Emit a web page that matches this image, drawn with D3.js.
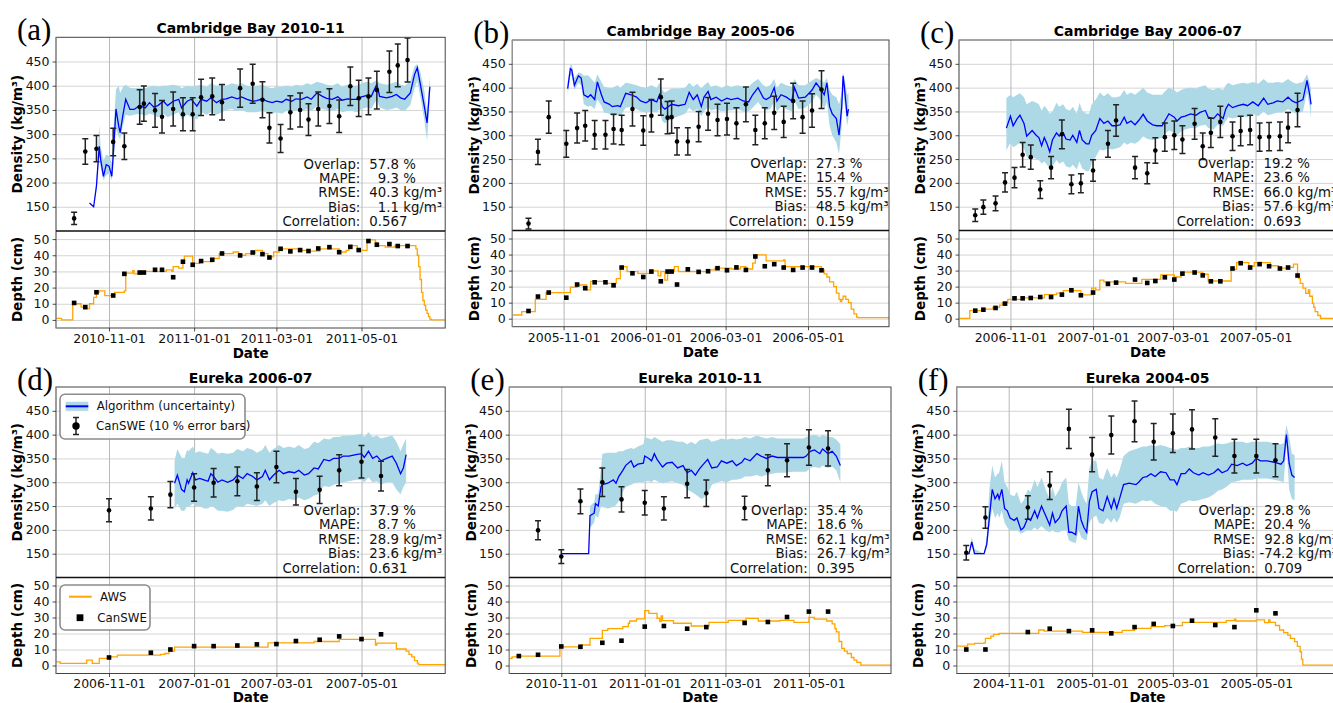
<!DOCTYPE html>
<html>
<head>
<meta charset="utf-8">
<title>Snow density and depth</title>
<script src="https://cdn.jsdelivr.net/npm/d3@7"></script>
<style>
  body { margin: 0; background: #fff; }
  svg { display: block; font-family: "DejaVu Sans", sans-serif; }
</style>
</head>
<body>
<svg id="chart" width="1333" height="703"></svg>
<script>
// dates are "MM-DD" inside a season that starts in the given year (Sep..Dec) and ends the next year

// ---- (a) Cambridge Bay 2010-11 ----
var aAlgDates = ["10-18","10-21","10-23","10-25","10-26","10-28","10-30","11-01",
  "11-03","11-04","11-06","11-08","11-09","11-11","11-13","11-16","11-19","11-23","11-27","11-30",
  "12-03","12-06","12-10","12-13","12-17","12-21","12-23","12-27","12-30",
  "01-03","01-06","01-10","01-13","01-17","01-21","01-24","01-28",
  "02-01","02-04","02-08","02-12","02-15","02-19","02-22","02-26",
  "03-01","03-05","03-08","03-12","03-15","03-19","03-23","03-26","03-30",
  "04-03","04-06","04-10","04-14","04-17","04-21","04-24","04-28",
  "05-01","05-05","05-08","05-12","05-14","05-19","05-23","05-26","05-29",
  "06-01","06-05","06-08","06-10","06-12","06-15","06-17","06-19"]
var aAlgMean = [158,150,193,275,248,213,237,234,
  213,255,352,316,303,340,372,351,351,359,354,365,
  356,359,368,359,368,372,354,368,372,
  358,372,368,375,365,372,373,377,
  373,377,372,368,369,373,368,365,
  368,366,372,368,373,372,377,372,385,
  378,374,372,377,370,373,372,372,
  377,380,378,403,378,375,378,382,375,
  372,385,423,437,406,358,323,398]
var aAlgLow = [158,150,185,255,232,205,215,218,
  205,230,310,295,290,318,340,338,340,342,338,342,
  340,335,342,335,340,345,330,340,335,
  330,345,340,345,340,345,350,352,
  348,350,345,345,345,348,345,342,
  345,342,348,345,350,348,352,348,358,
  352,350,348,352,345,348,348,345,
  352,355,352,372,355,350,352,355,350,
  348,360,395,410,380,330,285,375]
var aAlgHigh = [158,150,205,318,275,245,258,255,
  240,300,392,400,385,398,402,396,395,396,395,398,
  400,398,400,400,402,400,395,400,398,
  400,402,398,405,400,402,400,405,
  402,405,400,398,400,402,398,395,
  398,398,400,398,402,400,405,402,408,
  405,402,400,405,398,402,400,400,
  405,408,405,412,405,402,405,408,402,
  400,410,440,445,430,390,345,420]
var aSweDates = ["10-07","10-15","10-23","11-04","11-12","11-23","11-26","12-04","12-09","12-17","12-24","12-31",
  "01-06","01-14","01-21","02-03","02-12","02-19","02-24","03-04","03-11","03-18","03-24","03-31",
  "04-08","04-15","04-23","04-29","05-06","05-12","05-21","05-27","06-03"]
var aSweDensity = [126,264,270,284,275,356,363,349,336,352,341,341,376,378,366,395,404,371,313,291,345,350,330,352,358,337,399,374,378,391,429,442,453]
var aSweDepth = [10.5,7.9,17.1,15.1,28.5,29.3,29.3,31,31,26.4,36,34.1,36.4,37.2,41.1,39.9,41.7,40.7,38.6,44,42.4,43.2,42.6,44.2,45,41.9,45.2,43.2,48.8,46.5,46.9,45.7,45.7]
var aAwsDates = ["09-24","09-28","10-06","10-12","10-14","10-18","10-21","10-23","10-25","10-29","11-05","11-12","11-13","11-18","11-19","11-23",
  "12-05","12-12","12-16","12-17","12-21","12-24","12-25","12-31","01-05","01-14","01-19","01-29","02-02","02-07","02-14","02-19","02-23","02-27",
  "03-03","03-18","03-25","04-01","04-15","04-20","04-22","04-28","04-30","05-05","05-11","05-12","05-18","05-25",
  "06-09","06-10","06-11","06-12","06-13","06-14","06-15","06-16","06-17","06-18","06-19","06-20","06-30"]
var aAwsDepth = [1,0,10,8,7,10,14,17,18,15,17,18,29,30.5,28.5,30,
  30,31,30,33,32,35,39.5,35,36,38,41,42,40,41,43,41,39,42,
  44,43,42.5,44,42,43,46,44,43,49.5,48,46,45,46,
  44,40,33,25,17,12,9,6,4,2,0.5,0,0]
var aStats = [57.8, 9.3, 40.3, 1.1, 0.567]

// ---- (b) Cambridge Bay 2005-06 ----
var bAlgDates = ["11-04","11-06","11-07","11-09","11-12","11-14","11-16","11-19","11-21","11-24","11-26","11-29",
  "12-01","12-05","12-07","12-11","12-13","12-17","12-21","12-25","12-28",
  "01-01","01-05","01-09","01-11","01-13","01-15","01-20","01-25","01-30",
  "02-02","02-05","02-08","02-11","02-13","02-16","02-18","02-22","02-26",
  "03-02","03-05","03-10","03-14","03-18","03-21","03-25","03-29","03-31",
  "04-03","04-06","04-08","04-11","04-15","04-19","04-21","04-24","04-29",
  "05-04","05-07","05-11","05-13","05-15","05-17","05-19","05-22","05-24","05-26","05-27","05-28","05-30","05-31"]
var bAlgMean = [398,440,438,405,425,420,385,380,385,375,412,385,370,365,360,362,360,388,385,380,372,
  368,375,370,385,360,355,365,362,365,390,375,385,360,380,392,375,380,372,
  378,375,378,372,370,385,400,378,375,380,400,372,385,380,372,400,378,380,
  395,410,395,385,410,360,345,335,300,360,425,400,340,355]
var bAlgLow = [385,425,425,395,410,405,365,360,362,355,375,362,348,345,340,342,340,358,360,355,350,
  348,350,348,355,330,325,335,340,345,358,350,355,340,350,360,352,355,350,
  352,352,355,350,350,358,370,355,352,355,370,350,360,355,350,372,355,358,
  370,385,372,355,370,320,300,285,260,320,395,370,320,335]
var bAlgHigh = [410,448,448,420,432,430,425,426,420,410,428,412,402,400,400,405,400,410,408,405,402,
  400,405,400,410,395,390,398,398,400,410,402,408,398,405,412,402,405,400,
  405,402,405,402,402,410,418,405,402,405,418,400,410,405,402,418,405,405,
  415,420,415,410,420,395,385,380,365,390,432,420,385,390]
var bSweDates = ["10-06","10-13","10-21","11-03","11-11","11-17","11-24","12-02","12-08","12-14","12-22","12-30",
  "01-05","01-12","01-17","01-20","01-24","02-01","02-09","02-16","02-23","03-02","03-09","03-16","03-23","03-30",
  "04-06","04-13","04-20","04-27","05-04","05-11"]
var bSweDensity = [114.5,265,338,282,315,320,301,301,313,311,355,310,341,380,337,338,287,287,318,345,332,334,325,365,311,325,347,328,372,338,352,396]
var bSweDepth = [4.8,13.8,16.3,13.1,21.3,19,22.7,22.7,20.8,31.9,28.3,26,29.4,23.3,29.4,29.4,21.3,30.8,29.2,29.6,31.5,30.2,32,30.4,38.8,32.7,34,31.9,30.4,31.9,31.9,30.2]
var bAwsDates = ["09-24","10-01","10-11","10-19","11-06","11-11","11-18","11-21","12-02","12-10",
  "12-13","12-18","12-26","01-06","01-10","01-12","01-15","01-17","01-22","01-25",
  "02-16","02-21","03-05","03-12","03-16","03-21","03-23","03-31","04-13","04-14",
  "04-29","05-11","05-13","05-15","05-17","05-20","05-22","05-24","05-25","05-26",
  "05-27","05-29","05-31","06-02","06-04","06-06","06-07","06-30"]
var bAwsDepth = [2.3,4.4,12,16.2,19.6,21,18,23.3,22,25,
  32.5,29.4,28.3,29.8,26.7,29.4,24,29.4,32.5,29.4,
  30.4,31.5,31,32.5,31,34.6,39.8,36,36.7,32.5,
  32.5,30.4,28,26,23,20,16,12,10.6,12,
  14,12,10,6,3,1,0.6,0.6]
var bStats = [27.3, 15.4, 55.7, 48.5, 0.159]

// ---- (c) Cambridge Bay 2006-07 ----
var cAlgDates = ["10-29","11-01","11-03","11-06","11-08","11-11","11-13","11-17","11-20","11-22","11-24","11-26","11-28","11-30",
  "12-02","12-05","12-07","12-10","12-12","12-15","12-17","12-20","12-22","12-24","12-27","12-29","12-31",
  "01-03","01-06","01-09","01-12","01-15","01-18","01-21","01-24","01-26","01-29",
  "02-01","02-04","02-07","02-10","02-14","02-17","02-21","02-23","02-26",
  "03-02","03-04","03-07","03-10","03-14","03-18","03-21","03-25","03-27","03-31",
  "04-03","04-07","04-09","04-11","04-14","04-18","04-22","04-25","04-29",
  "05-03","05-07","05-10","05-14","05-17","05-21","05-25","05-28","05-31",
  "06-05","06-08","06-10","06-11"]
var cAlgMean = [315,340,320,335,342,325,298,310,300,295,278,295,282,265,
  290,305,298,305,292,290,300,285,310,290,282,282,300,
  310,335,325,330,320,320,322,338,325,330,
  322,332,344,330,322,320,320,330,345,
  338,330,338,340,345,342,348,352,338,335,
  345,335,355,365,358,362,365,362,370,
  362,378,365,368,372,370,380,372,368,
  375,415,385,365]
var cAlgLow = [268,285,275,280,285,272,255,255,250,248,240,245,238,230,
  235,248,240,245,235,232,238,228,245,230,225,225,240,
  255,270,268,272,270,272,275,285,280,285,
  282,288,298,292,290,292,295,302,310,
  305,300,308,312,315,315,320,322,315,312,
  322,320,330,338,335,338,340,338,345,
  340,350,342,345,348,348,355,350,345,
  350,390,360,336]
var cAlgHigh = [378,385,380,385,388,380,365,372,368,365,352,362,355,345,
  350,368,360,365,355,352,360,345,368,352,345,345,365,
  375,390,382,388,380,380,382,395,385,390,
  385,392,400,390,385,385,385,392,400,
  395,390,395,398,400,398,402,405,398,395,
  400,395,405,410,405,408,410,408,412,
  408,418,410,410,412,410,418,412,408,
  412,428,410,395]
var cSweDates = ["10-06","10-12","10-21","10-28","11-04","11-10","11-16","11-23","12-01","12-09","12-16","12-23",
  "01-01","01-12","01-18","02-01","02-10","02-16","02-23","03-02","03-08","03-17","03-23","03-29",
  "04-05","04-14","04-20","04-27","05-04","05-11","05-19","05-25","06-01"]
var cSweDensity = [132,149,157,201,211,259,254,186,232,302,197,199,226,282,331,232,220,268,296,300,291,324,277,305,328,298,309,311,296,297,298,316,353]
var cSweDepth = [5,5.6,6.7,9.4,12.7,12.7,12.9,13.5,13.5,15,17.7,14.6,16.3,21.7,22.5,24.4,22.3,23.5,25.8,24.4,28.1,28.8,27,23.3,23.3,31.3,34.6,31.9,34,32.7,31.3,31.9,26.9]
var cAwsDates = ["09-24","10-02","10-12","10-19","10-24","10-26","10-30","11-09","11-26","12-05",
  "12-10","12-23","12-31","01-03","01-06","01-09","01-25","02-06","02-20","03-02",
  "03-07","03-23","03-27","04-13","04-17","04-26","04-30","05-12","05-18","05-24",
  "05-29","06-01","06-02","06-03","06-05","06-07","06-09","06-10","06-12","06-13",
  "06-14","06-16","06-18","06-30"]
var cAwsDepth = [0.2,5,6,7,8.5,10,12,13,15,16,
  17.5,14.8,19,18,24,23,22,24.5,27.3,26,
  29,27.7,23.5,30.8,35,32.7,35,33,31.5,32,
  34,28,25,22,19,15.8,18,14,9.6,7,
  4.4,2,0.2,0.2]
var cStats = [19.2, 23.6, 66.0, 57.6, 0.693]

// ---- (d) Eureka 2006-07 ----
var dAlgDates = ["12-18","12-20","12-23","12-25","12-27","12-28","12-31",
  "01-02","01-05","01-08","01-11","01-13","01-15","01-18","01-21","01-25","01-29",
  "02-01","02-05","02-08","02-12","02-15","02-19","02-21","02-24","02-26","02-28",
  "03-03","03-06","03-10","03-14","03-17","03-21","03-24","03-28","03-31",
  "04-04","04-08","04-11","04-15","04-18","04-22","04-27",
  "05-01","05-03","05-06","05-09","05-12","05-15","05-19","05-23","05-26","05-29","05-31","06-02"]
var dAlgMean = [298,315,285,280,305,298,320,
  305,308,305,302,318,312,300,305,300,305,
  315,308,318,312,305,312,325,305,312,318,
  325,318,322,320,325,315,318,330,328,
  348,345,350,350,355,355,358,
  360,352,365,350,355,345,350,355,340,318,330,358]
var dAlgLow = [245,255,240,240,250,248,255,
  250,250,245,245,250,248,240,240,238,242,
  250,248,255,252,250,255,262,250,255,258,
  262,260,265,262,268,262,265,272,275,
  292,290,295,298,300,302,305,
  305,300,310,300,302,295,300,300,285,275,290,300]
var dAlgHigh = [345,370,352,350,368,365,375,
  362,365,362,360,372,368,360,362,360,362,
  370,365,372,368,362,368,378,362,368,372,
  378,372,375,372,378,370,372,385,382,
  392,390,395,395,398,398,400,
  402,395,405,395,398,392,395,398,385,365,380,392]
var dSweDates = ["11-01","12-01","12-15","01-01","01-15","02-01","02-15","03-01","03-15","04-01","04-15","05-01","05-15"]
var dSweDensity = [241,245,274,289,299,302,291,332,280,284,325,343,313]
var dSweDepth = [5,8,10,12.1,12.1,12.5,13.2,13.4,15.3,16.1,18.2,16.5,19.5]
var dAwsDates = ["09-24","09-27","10-16","10-20","10-25","11-01","11-07","12-08","12-11","12-14",
  "12-18","02-23","03-28","04-15","05-11","05-12","05-26","06-02","06-04","06-06",
  "06-08","06-10","06-11","06-30"]
var dAwsDepth = [2.3,1.3,3.3,1.3,4.4,5.4,6.5,7,7.5,9,
  11.5,14.2,15,16.3,12.8,14,10.3,9,7,5.4,
  3,1.5,0.6,0.6]
var dStats = [37.9, 8.7, 28.9, 23.6, 0.631]

// ---- (e) Eureka 2010-11 ----
var eAlgDates = ["11-01","11-21","11-22","11-25","11-26","11-28","11-30",
  "12-01","12-05","12-09","12-11","12-13","12-16","12-18","12-22","12-24","12-27","12-31",
  "01-01","01-04","01-06","01-08","01-10","01-14","01-17","01-21","01-25","01-29",
  "02-01","02-04","02-07","02-10","02-12","02-16","02-19","02-23","02-26",
  "03-02","03-06","03-09","03-13","03-15","03-19","03-24","03-27","03-31",
  "04-04","04-08","04-13","04-20","04-27","04-29",
  "05-02","05-05","05-09","05-11","05-15","05-18","05-21","05-24"]
var eAlgMean = [150,150,230,235,255,250,290,
  295,298,305,298,312,325,335,345,332,338,340,
  355,350,345,360,348,332,340,342,330,335,
  320,325,315,328,335,348,330,332,345,
  340,345,335,342,350,345,360,355,350,
  355,352,352,352,352,355,
  365,368,360,370,360,365,355,335]
var eAlgLow = [150,150,205,215,230,225,250,
  248,245,248,252,260,280,290,295,298,300,300,
  302,302,300,305,302,298,300,302,298,295,
  285,280,275,268,265,275,295,300,302,
  300,305,305,308,312,312,315,312,315,
  318,320,320,322,322,322,
  330,332,330,335,330,333,325,300]
var eAlgHigh = [150,150,250,258,275,275,330,
  360,362,362,362,365,365,368,372,370,375,380,
  395,392,390,395,392,385,388,388,385,385,
  380,385,380,388,390,392,385,388,392,
  390,392,390,392,395,392,398,395,392,
  395,392,392,392,392,395,
  398,400,395,400,395,395,390,380]
var eSweDates = ["10-15","11-01","11-15","12-01","12-15","01-01","01-15","02-01","02-15","03-15","04-01","04-15","05-01","05-15"]
var eSweDensity = [199,144,260,300,264,257,245,297,277,246,325,346,373,371]
var eDepthDates = ["10-01","10-15","11-01","11-15","12-01","12-15","01-01","01-15","02-01","02-15","03-15","04-01","04-15","05-01","05-15"]
var eSweDepth = [5.9,6.7,11.9,11.7,14.2,15.5,24.3,24.7,23,24,26.6,27.2,30.3,33.7,33.7]
var eAwsDates = ["09-24","09-26","09-29","10-31","11-15","11-22","12-01","12-05","12-16","12-20",
  "12-21","12-26","01-01","01-04","01-10","01-12","01-13","01-14","01-22","02-04",
  "02-17","03-03","03-16","03-25","04-10","04-20","05-01","05-05","05-14","05-18",
  "05-20","05-21","05-23","05-25","05-27","05-29","06-01","06-03","06-05","06-08","06-30"]
var eAwsDepth = [4.4,5.4,5.9,11.7,12.8,17,22,23,24.3,26.4,
  27.8,29.1,34.3,32.6,29.5,27.4,31,28,26.4,24.7,
  27,28.2,29.5,27.8,28.2,27,30.1,29,27.8,26,
  23,21,15,10.7,9,7.5,5,3.3,2,0.2,0.2]
var eStats = [35.4, 18.6, 62.1, 26.7, 0.395]

// ---- (f) Eureka 2004-05 ----
var fAlgDates = ["09-30","10-03","10-05","10-07","10-14","10-16","10-18","10-20","10-22","10-24","10-25","10-27","10-29","10-31",
  "11-02","11-05","11-07","11-10","11-12","11-15","11-17","11-20","11-22","11-25","11-28",
  "12-01","12-03","12-05","12-08","12-10","12-13","12-15","12-17","12-20","12-22","12-24","12-26","12-28","12-30",
  "01-01","01-04","01-06","01-09","01-12","01-15","01-17","01-19","01-21","01-24","01-28",
  "02-02","02-04","02-07","02-10","02-13","02-16","02-20","02-24","02-27",
  "03-02","03-04","03-07","03-10","03-13","03-16","03-20","03-23","03-27","03-31",
  "04-03","04-06","04-10","04-13","04-17","04-21","04-24","04-28",
  "05-01","05-04","05-09","05-14","05-19","05-21","05-23","05-25","05-27","05-29"]
var fAlgMean = [150,150,175,150,150,170,230,285,265,275,265,285,245,240,
  225,220,225,200,205,225,220,240,225,250,230,
  210,235,215,225,240,250,195,195,190,250,220,205,195,260,
  280,285,245,240,270,245,265,245,265,295,298,
  295,300,310,312,318,312,322,320,305,
  305,295,318,318,328,320,315,320,315,320,
  328,320,325,338,335,340,335,340,
  350,345,345,342,338,345,400,340,315,310]
var fAlgLow = [150,150,165,150,150,162,210,245,225,235,225,240,215,205,
  200,198,200,192,195,200,198,205,200,208,200,
  195,200,195,195,198,200,178,175,172,200,185,180,178,215,
  225,230,215,212,225,215,225,215,225,255,258,
  255,258,262,260,262,255,250,248,240,
  240,238,255,258,262,260,262,265,268,275,
  282,285,292,300,302,305,305,305,
  308,308,308,305,302,300,380,285,265,262]
var fAlgHigh = [150,150,185,160,150,190,290,335,310,318,320,345,300,290,
  275,270,280,255,262,285,280,305,290,310,285,
  265,290,270,285,300,310,255,250,250,300,280,265,255,330,
  345,345,310,305,330,310,320,310,325,355,365,
  370,372,375,375,378,375,378,375,372,
  370,368,372,372,375,372,372,375,375,378,
  382,380,382,385,385,385,382,385,
  385,385,385,382,380,382,420,395,360,357]
var fSweDates = ["10-01","10-15","11-15","12-01","12-15","01-01","01-15","02-01","02-15","03-01","03-15","04-01","04-15","05-01","05-15"]
var fSweDensity = [152,226,247,293,412,358,399,428,385,403,411,394,355,355,346]
var fSweDepth = [10,10,20.9,23,21.5,22,20.1,24,26,24.7,28,25.3,24,34.5,32.6]
var fAwsDates = ["09-24","10-02","10-07","10-14","10-15","10-19","10-21","10-25","11-23","11-27",
  "12-25","01-23","02-01","02-13","02-23","03-08","04-09","04-15","04-16","05-01",
  "05-07","05-10","05-11","05-15","05-18","05-21","05-24","05-26","05-29","05-31",
  "06-02","06-03","06-04","06-30"]
var fAwsDepth = [12.1,13.4,13.8,14.2,17,18.4,19.5,20.1,22.2,21.5,
  20.7,22,23.2,24.3,24.9,27,28,29,27.8,28.5,
  26.8,28.5,27,25,22.2,20.5,19,17,14.9,12,
  8.6,4,0.2,0.2]
var fStats = [29.8, 20.4, 92.8, -74.2, 0.709]

var panelLetters = ["(a)", "(b)", "(c)", "(d)", "(e)", "(f)"]
var panelTitles = ["Cambridge Bay 2010-11", "Cambridge Bay 2005-06", "Cambridge Bay 2006-07",
  "Eureka 2006-07", "Eureka 2010-11", "Eureka 2004-05"]
var seasonYears = [2010, 2005, 2006, 2006, 2010, 2004]
var densityTicks = [150, 200, 250, 300, 350, 400, 450]
var depthTicks = [0, 10, 20, 30, 40, 50]
var statNames = ["Overlap:", "MAPE:", "RMSE:", "Bias:", "Correlation:"]
var statUnits = ["%", "%", "kg/m\u00b3", "kg/m\u00b3", ""]

var panels = [
  {alg: [aAlgDates, aAlgMean, aAlgLow, aAlgHigh], swe: [aSweDates, aSweDensity], dep: [aSweDates, aSweDepth], aws: [aAwsDates, aAwsDepth], stats: aStats},
  {alg: [bAlgDates, bAlgMean, bAlgLow, bAlgHigh], swe: [bSweDates, bSweDensity], dep: [bSweDates, bSweDepth], aws: [bAwsDates, bAwsDepth], stats: bStats},
  {alg: [cAlgDates, cAlgMean, cAlgLow, cAlgHigh], swe: [cSweDates, cSweDensity], dep: [cSweDates, cSweDepth], aws: [cAwsDates, cAwsDepth], stats: cStats},
  {alg: [dAlgDates, dAlgMean, dAlgLow, dAlgHigh], swe: [dSweDates, dSweDensity], dep: [dSweDates, dSweDepth], aws: [dAwsDates, dAwsDepth], stats: dStats},
  {alg: [eAlgDates, eAlgMean, eAlgLow, eAlgHigh], swe: [eSweDates, eSweDensity], dep: [eDepthDates, eSweDepth], aws: [eAwsDates, eAwsDepth], stats: eStats},
  {alg: [fAlgDates, fAlgMean, fAlgLow, fAlgHigh], swe: [fSweDates, fSweDensity], dep: [fSweDates, fSweDepth], aws: [fAwsDates, fAwsDepth], stats: fStats}
]

// axes boxes in pixels
var boxes = [
  {left: 56, right: 445.2, top: 37.3, mid: 231, bottom: 328, dateY: 358},
  {left: 512.3, right: 889, top: 40, mid: 230.5, bottom: 326.7, dateY: 357},
  {left: 959, right: 1336.8, top: 40, mid: 230.5, bottom: 326.7, dateY: 357},
  {left: 56, right: 445.2, top: 387, mid: 577.5, bottom: 673.5, dateY: 702},
  {left: 509.3, right: 891, top: 387, mid: 577.5, bottom: 673.5, dateY: 702},
  {left: 956.7, right: 1338.4, top: 387, mid: 577.5, bottom: 673.5, dateY: 702}
]

var svg = d3.select("#chart")
var parseDay = d3.timeParse("%Y-%m-%d")
var fmtTick = d3.timeFormat("%Y-%m-%d")

function toDate(year, s) {
  var m = +s.slice(0, 2)
  return parseDay((m >= 8 ? year : year + 1) + "-" + s)
}

function styleAxis(sel, size) {
  sel.select(".domain").remove()
  sel.selectAll(".tick line").attr("stroke", "#222").attr("stroke-width", 0.8)
  sel.selectAll(".tick text").attr("fill", "#111").style("font-size", size + "px").style("font-family", "DejaVu Sans")
}

function drawPanel(p, b, i) {
  var year = seasonYears[i]
  var g = svg.append("g")
  var w = b.right - b.left

  var x = d3.scaleTime().domain([new Date(year, 8, 24), new Date(year + 1, 5, 30)]).range([b.left, b.right])
  var yDen = d3.scaleLinear().domain([100, 500]).range([b.mid, b.top])
  var yDep = d3.scaleLinear().domain([-5, 55]).range([b.bottom, b.mid])
  var xTicks = [new Date(year, 10, 1), new Date(year + 1, 0, 1), new Date(year + 1, 2, 1), new Date(year + 1, 4, 1)]

  var defs = g.append("defs")
  defs.append("clipPath").attr("id", "cden" + i).append("rect")
    .attr("x", b.left).attr("y", b.top).attr("width", w).attr("height", b.mid - b.top)
  defs.append("clipPath").attr("id", "cdep" + i).append("rect")
    .attr("x", b.left).attr("y", b.mid).attr("width", w).attr("height", b.bottom - b.mid)

  // grids
  g.append("g").attr("transform", "translate(" + b.left + ",0)")
    .call(d3.axisLeft(yDen).tickValues(densityTicks).tickSize(-w).tickFormat(""))
    .call(function (s) { s.select(".domain").remove(); s.selectAll("line").attr("stroke", "#d4d4d4").attr("stroke-width", 1) })
  g.append("g").attr("transform", "translate(" + b.left + ",0)")
    .call(d3.axisLeft(yDep).tickValues(depthTicks).tickSize(-w).tickFormat(""))
    .call(function (s) { s.select(".domain").remove(); s.selectAll("line").attr("stroke", "#d4d4d4").attr("stroke-width", 1) })
  g.append("g").attr("transform", "translate(0," + b.bottom + ")")
    .call(d3.axisBottom(x).tickValues(xTicks).tickSize(-(b.bottom - b.top)).tickFormat(""))
    .call(function (s) { s.select(".domain").remove(); s.selectAll("line").attr("stroke", "#b8b8b8").attr("stroke-width", 1) })

  // algorithm band and line
  var alg = p.alg[0].map(function (s, k) {
    return {date: toDate(year, s), mean: p.alg[1][k], low: p.alg[2][k], high: p.alg[3][k]}
  })
  var den = g.append("g").attr("clip-path", "url(#cden" + i + ")")
  den.append("path").datum(alg)
    .attr("fill", "#add8e6")
    .attr("d", d3.area().x(function (d) { return x(d.date) }).y0(function (d) { return yDen(d.low) }).y1(function (d) { return yDen(d.high) }))
  den.append("path").datum(alg)
    .attr("fill", "none").attr("stroke", "#0000ff").attr("stroke-width", 1.3)
    .attr("d", d3.line().x(function (d) { return x(d.date) }).y(function (d) { return yDen(d.mean) }))

  // CanSWE density with 10 % error bars
  var swe = p.swe[0].map(function (s, k) { return {date: toDate(year, s), v: p.swe[1][k]} })
  var eb = den.selectAll(".eb").data(swe).join("g").attr("class", "eb")
  eb.append("line")
    .attr("x1", function (d) { return x(d.date) }).attr("x2", function (d) { return x(d.date) })
    .attr("y1", function (d) { return yDen(d.v * 0.9) }).attr("y2", function (d) { return yDen(d.v * 1.1) })
  eb.append("line")
    .attr("x1", function (d) { return x(d.date) - 3 }).attr("x2", function (d) { return x(d.date) + 3 })
    .attr("y1", function (d) { return yDen(d.v * 0.9) }).attr("y2", function (d) { return yDen(d.v * 0.9) })
  eb.append("line")
    .attr("x1", function (d) { return x(d.date) - 3 }).attr("x2", function (d) { return x(d.date) + 3 })
    .attr("y1", function (d) { return yDen(d.v * 1.1) }).attr("y2", function (d) { return yDen(d.v * 1.1) })
  eb.selectAll("line").attr("stroke", "#222").attr("stroke-width", 1.5)
  eb.append("circle").attr("cx", function (d) { return x(d.date) }).attr("cy", function (d) { return yDen(d.v) })
    .attr("r", 2.3).attr("fill", "#000")

  // depth: AWS line and CanSWE squares
  var aws = p.aws[0].map(function (s, k) { return {date: toDate(year, s), v: p.aws[1][k]} })
  var dep = g.append("g").attr("clip-path", "url(#cdep" + i + ")")
  dep.append("path").datum(aws)
    .attr("fill", "none").attr("stroke", "#ffa500").attr("stroke-width", 1.3)
    .attr("d", d3.line().curve(d3.curveStepAfter).x(function (d) { return x(d.date) }).y(function (d) { return yDep(d.v) }))
  var sq = p.dep[0].map(function (s, k) { return {date: toDate(year, s), v: p.dep[1][k]} })
  dep.selectAll(".sq").data(sq).join("rect").attr("class", "sq")
    .attr("x", function (d) { return x(d.date) - 2.3 }).attr("y", function (d) { return yDep(d.v) - 2.3 })
    .attr("width", 4.6).attr("height", 4.6).attr("fill", "#000")

  // statistics
  var xl = b.left + 0.782 * w
  var xv = xl + 9
  var numW = 2.226 * 13.3
  var st = g.append("g").style("font-size", "13.3px").attr("fill", "#111")
  p.stats.forEach(function (v, k) {
    var y = b.mid - 4.9 - (4 - k) * 14.4
    st.append("text").attr("x", xl).attr("y", y).attr("text-anchor", "end").text(statNames[k])
    if (k < 4) {
      st.append("text").attr("x", xv + numW).attr("y", y).attr("text-anchor", "end").text(v.toFixed(1))
      st.append("text").attr("x", xv + numW).attr("dx", "0.318em").attr("y", y).text(statUnits[k])
    } else {
      st.append("text").attr("x", xv).attr("y", y).text(v.toFixed(3))
    }
  })

  // spines: light left edge, dark top / right / bottom and the shared middle line
  g.append("rect").attr("x", b.left).attr("y", b.top).attr("width", w).attr("height", b.bottom - b.top)
    .attr("fill", "none").attr("stroke", "#444").attr("stroke-width", 1)
  g.append("line").attr("x1", b.left).attr("x2", b.left).attr("y1", b.top).attr("y2", b.bottom)
    .attr("stroke", "#9a9a9a").attr("stroke-width", 1.2)
  g.append("line").attr("x1", b.left).attr("x2", b.right).attr("y1", b.mid).attr("y2", b.mid)
    .attr("stroke", "#111").attr("stroke-width", 1.4)

  // tick labels
  g.append("g").attr("transform", "translate(" + b.left + ",0)")
    .call(d3.axisLeft(yDen).tickValues(densityTicks).tickSize(3.5).tickPadding(3))
    .call(function (s) { styleAxis(s, 12.5) })
  g.append("g").attr("transform", "translate(" + b.left + ",0)")
    .call(d3.axisLeft(yDep).tickValues(depthTicks).tickSize(3.5).tickPadding(3))
    .call(function (s) { styleAxis(s, 12.5) })
  g.append("g").attr("transform", "translate(0," + b.bottom + ")")
    .call(d3.axisBottom(x).tickValues(xTicks).tickFormat(fmtTick).tickSize(3.5).tickPadding(2.5))
    .call(function (s) { styleAxis(s, 12.5) })

  // labels
  var cx = (b.left + b.right) / 2
  g.append("text").attr("x", cx).attr("y", b.top - 4.2).attr("text-anchor", "middle")
    .style("font-size", "14px").style("font-weight", "bold").text(panelTitles[i])
  g.append("text").attr("x", cx).attr("y", b.dateY).attr("text-anchor", "middle")
    .style("font-size", "13.5px").style("font-weight", "bold").text("Date")
  g.append("text").attr("transform", "translate(" + (b.left - 38.5) + "," + ((b.top + b.mid) / 2) + ") rotate(-90)")
    .attr("text-anchor", "middle").attr("dy", "0.36em")
    .style("font-size", "13.5px").style("font-weight", "bold").text("Density (kg/m\u00b3)")
  g.append("text").attr("transform", "translate(" + (b.left - 38.5) + "," + ((b.mid + b.bottom) / 2) + ") rotate(-90)")
    .attr("text-anchor", "middle").attr("dy", "0.36em")
    .style("font-size", "13.5px").style("font-weight", "bold").text("Depth (cm)")
  g.append("text").attr("x", b.left - 39).attr("y", b.top + 2.5)
    .style("font-family", "Liberation Serif, serif").style("font-size", "31px").text(panelLetters[i])
}

function drawLegends(b) {
  var g = svg.append("g").style("font-size", "11.8px").attr("fill", "#111")
  var lx = b.left + 4
  var ly = b.top + 7.3
  g.append("rect").attr("x", lx).attr("y", ly).attr("width", 185).attr("height", 44.7).attr("rx", 5)
    .attr("fill", "#fff").attr("fill-opacity", 0.85).attr("stroke", "#8c8c8c").attr("stroke-width", 1.6)
  g.append("rect").attr("x", lx + 5.7).attr("y", ly + 7.5).attr("width", 22.6).attr("height", 9).attr("fill", "#add8e6")
  g.append("line").attr("x1", lx + 5.7).attr("x2", lx + 28.3).attr("y1", ly + 12).attr("y2", ly + 12)
    .attr("stroke", "#0000ff").attr("stroke-width", 2)
  g.append("text").attr("x", lx + 36.7).attr("y", ly + 16).text("Algorithm (uncertainty)")
  var ex = lx + 16
  var ey = ly + 31.7
  g.append("line").attr("x1", ex).attr("x2", ex).attr("y1", ey - 8.5).attr("y2", ey + 8.5).attr("stroke", "#222").attr("stroke-width", 1.5)
  g.append("line").attr("x1", ex - 3).attr("x2", ex + 3).attr("y1", ey - 8.5).attr("y2", ey - 8.5).attr("stroke", "#222").attr("stroke-width", 1.5)
  g.append("line").attr("x1", ex - 3).attr("x2", ex + 3).attr("y1", ey + 8.5).attr("y2", ey + 8.5).attr("stroke", "#222").attr("stroke-width", 1.5)
  g.append("circle").attr("cx", ex).attr("cy", ey).attr("r", 3.7).attr("fill", "#000")
  g.append("text").attr("x", lx + 36).attr("y", ey + 4.2).text("CanSWE (10 % error bars)")

  var dy = b.mid + 7.5
  g.append("rect").attr("x", lx).attr("y", dy).attr("width", 90).attr("height", 45).attr("rx", 5)
    .attr("fill", "#fff").attr("fill-opacity", 0.85).attr("stroke", "#8c8c8c").attr("stroke-width", 1.6)
  g.append("line").attr("x1", lx + 9).attr("x2", lx + 31.7).attr("y1", dy + 11.7).attr("y2", dy + 11.7)
    .attr("stroke", "#ffa500").attr("stroke-width", 2)
  g.append("text").attr("x", lx + 40).attr("y", dy + 16).text("AWS")
  g.append("rect").attr("x", lx + 16.6).attr("y", dy + 29.3).attr("width", 6.8).attr("height", 6.8).attr("fill", "#000")
  g.append("text").attr("x", lx + 37.3).attr("y", dy + 37).text("CanSWE")
}

panels.forEach(function (p, i) { drawPanel(p, boxes[i], i) })
drawLegends(boxes[3])
</script>
</body>
</html>
